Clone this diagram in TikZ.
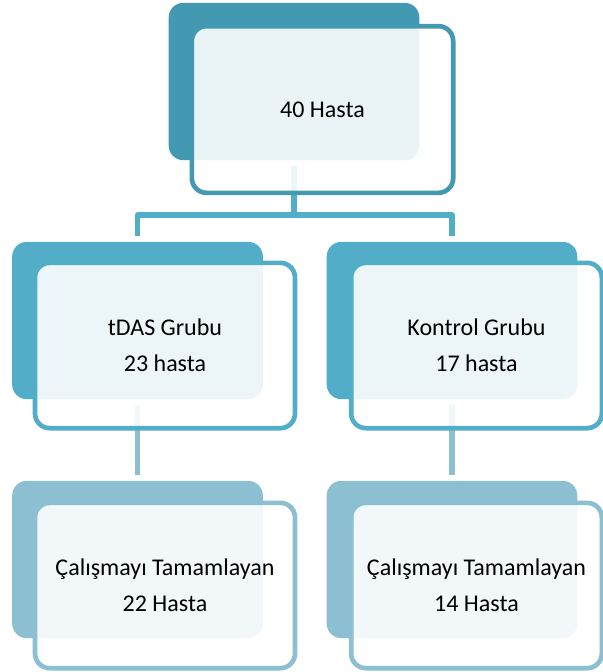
\documentclass[tikz,border=0pt]{standalone}
\usepackage{fontspec}
\setmainfont{Carlito}
\usetikzlibrary{positioning}
\definecolor{topblue}{HTML}{4499B2}
\definecolor{midblue}{HTML}{52ADC8}
\definecolor{lowblue}{HTML}{8BBFD1}

\begin{document}
\begin{tikzpicture}[x=0.75pt,y=-0.75pt,
    back/.style={rounded corners=11pt,minimum width=188pt,minimum height=118pt,inner sep=0pt},
    front/.style={draw,line width=3.5pt,rounded corners=11pt,minimum width=195pt,minimum height=124pt,
        fill=white,fill opacity=0.89,text opacity=1,align=center,font=\fontsize{18pt}{27pt}\selectfont},
    link/.style={line width=3.8pt,line join=round}]
\useasboundingbox (0,0) rectangle (603,672);

    % back boxes
    \node[back,fill=topblue] (back0) at (294,81.5) {};
    \foreach \x/\i in {137.5/1,452/2} \node[back,fill=midblue] (back\i) at (\x,320.5) {};
    \foreach \x/\i in {137.5/3,452/4} \node[back,fill=lowblue] (back\i) at (\x,559.5) {};

    % connectors top -> groups
    \coordinate (split) at (294,215);
    \draw[link,midblue,shorten <=4.5pt] (back0.south) -- (split);
    \draw[link,midblue,shorten <=4.5pt,shorten >=4.5pt] (back1.north) |- (split) -| (back2.north);

    % connectors groups -> completed
    \draw[link,lowblue,shorten <=4.5pt,shorten >=4.5pt] (back1.south) -- (back3.north);
    \draw[link,lowblue,shorten <=4.5pt,shorten >=4.5pt] (back2.south) -- (back4.north);

    % front boxes with labels
    \node[front,draw=topblue,minimum width=196pt,minimum height=125pt] (front0) at (322.5,109.5) {40 Hasta};
    \node[front,draw=midblue] (front1) at (165,345.5) {tDAS Grubu\\23 hasta};
    \node[front,draw=midblue,minimum width=188pt] (front2) at (476.5,345.5) {Kontrol Grubu\\17 hasta};
    \node[front,draw=lowblue] (front3) at (165,585.5) {Çalışmayı Tamamlayan\\22 Hasta};
    \node[front,draw=lowblue,minimum width=188pt] (front4) at (476.5,585.5) {Çalışmayı Tamamlayan\\14 Hasta};
\end{tikzpicture}
\end{document}
